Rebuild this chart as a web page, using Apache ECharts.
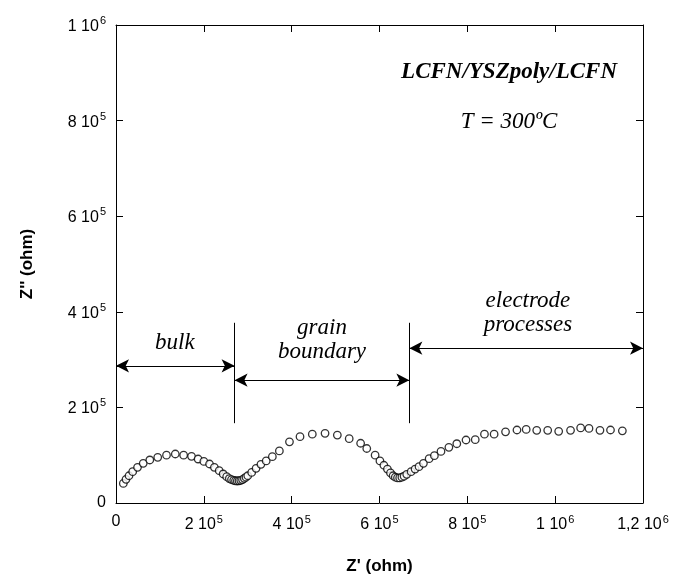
<!DOCTYPE html>
<html>
<head>
<meta charset="utf-8">
<script src="https://cdn.jsdelivr.net/npm/echarts@6/dist/echarts.min.js"></script>
<style>
html, body { margin: 0; padding: 0; background: #fff; }
#chart { width: 674px; height: 586px; }
</style>
</head>
<body>
<div id="chart"></div>
<script>
// Nyquist plot, Z' vs Z'' (ohm)
var zReal = [16.7e3, 22.8e3, 29.6e3, 38e3, 49e3, 62e3, 77e3, 95e3, 115e3, 135e3, 154e3, 172e3, 187e3,
	200e3, 213e3, 224e3, 235e3, 244e3, 252e3, 258e3, 263e3, 268e3, 272e3, 276e3, 280e3, 284e3, 288e3,
	292e3, 296e3, 300e3, 309e3, 319e3, 330e3, 342e3, 356e3, 372e3, 395e3, 419e3, 447e3, 476e3, 504e3,
	531e3, 557e3, 571e3, 590e3, 601e3, 610e3, 618e3, 625e3, 631e3, 636e3, 641e3, 646e3, 651e3, 656e3,
	662e3, 672e3, 681e3, 690e3, 700e3, 713e3, 725e3, 740e3, 758e3, 776e3, 797e3, 818e3, 839e3, 861e3,
	887e3, 913e3, 934e3, 958e3, 983e3, 1008e3, 1035e3, 1058e3, 1077e3, 1102e3, 1126e3, 1153e3];
var zImag = [41e3, 49.5e3, 57e3, 65.5e3, 74.6e3, 83e3, 90e3, 95.6e3, 100e3, 102.5e3, 100e3, 97.6e3, 92e3,
	87e3, 81.6e3, 74.6e3, 67.6e3, 60.7e3, 55e3, 51e3, 49e3, 47.5e3, 46.5e3, 46e3, 46.5e3, 47.5e3, 49e3,
	51.6e3, 54e3, 57e3, 64e3, 72.6e3, 81e3, 88e3, 97e3, 109e3, 128e3, 138.7e3, 144e3, 145.8e3, 142e3,
	134.5e3, 125e3, 114e3, 100e3, 88e3, 79e3, 71e3, 63e3, 57e3, 54e3, 52.5e3, 52.5e3, 54e3, 56e3,
	60e3, 65.5e3, 71e3, 76e3, 83e3, 92.7e3, 99e3, 108e3, 116.5e3, 124e3, 131.8e3, 132.5e3, 144e3, 144e3,
	149e3, 152.7e3, 154e3, 152e3, 152e3, 150e3, 152e3, 157e3, 156e3, 152e3, 152.7e3, 151e3];

// region arrows: [from, to, height]
var arrowFrom = [0, 270e3, 668e3];
var arrowTo = [270e3, 668e3, 1.2e6];
var arrowY = [287e3, 257e3, 324e3];
// separators between regions
var sepX = [270e3, 668e3];
var sepTop = 377e3, sepBottom = 167e3;

// text labels
var noteText = ['bulk', 'grain\nboundary', 'electrode\nprocesses'];
var noteX = [134e3, 469e3, 938e3];
var noteY = [335e3, 341e3, 397e3];

var titleText = ['LCFN/YSZpoly/LCFN', 'T = 300ºC'];
var titleX = [895e3, 895e3];
var titleY = [902e3, 797e3];

var FONT = 'Liberation Sans';
var SERIF = 'Liberation Serif';

function sciLabel(v) {
	if (v === 0) return '{m|0}';
	var e = Math.floor(Math.log10(v) + 1e-9);
	var m = Math.round(v / Math.pow(10, e) * 10) / 10;
	return '{m|' + String(m).replace('.', ',') + ' 10}{e|' + e + '}';
}

var rich = {
	m : { fontSize : 16, fontFamily : FONT, color : '#000', verticalAlign : 'bottom' },
	e : { fontSize : 11, fontFamily : FONT, color : '#000', verticalAlign : 'bottom', padding : [ 0, 0, 8, 1 ] }
};

var pts = zReal.map(function(x, i) { return [ x, zImag[i] ]; });

var lines = [];
for (var i = 0; i < arrowFrom.length; i++) {
	lines.push([ { coord : [ arrowFrom[i], arrowY[i] ] }, { coord : [ arrowTo[i], arrowY[i] ] } ]);
}
for (var j = 0; j < sepX.length; j++) {
	lines.push([ { coord : [ sepX[j], sepTop ], symbol : 'none' }, { coord : [ sepX[j], sepBottom ], symbol : 'none' } ]);
}

var notes = [];
for (var k = 0; k < noteText.length; k++) {
	notes.push({ name : noteText[k], coord : [ noteX[k], noteY[k] ],
		label : { fontSize : 23, fontStyle : 'italic', fontFamily : SERIF, lineHeight : 24 } });
}
notes.push({ name : titleText[0], coord : [ titleX[0], titleY[0] ],
	label : { fontSize : 23, fontStyle : 'italic', fontWeight : 'bold', fontFamily : SERIF } });
notes.push({ name : titleText[1], coord : [ titleX[1], titleY[1] ],
	label : { fontSize : 23, fontStyle : 'italic', fontFamily : SERIF } });

var axisLine = { show : true, onZero : false, lineStyle : { color : '#000', width : 1 } };
var tick = { show : true, inside : true, length : 7, lineStyle : { color : '#000' } };

var myChart = echarts.init(document.getElementById('chart'));
var option = {
	animation : false,
	backgroundColor : '#fff',
	grid : { left : 116, top : 25, right : 31, bottom : 83 },
	xAxis : [ {
		type : 'value', min : 0, max : 1.2e6, interval : 2e5,
		name : "Z' (ohm)", nameLocation : 'middle', nameGap : 55,
		nameTextStyle : { fontSize : 17, fontWeight : 'bold', fontFamily : FONT, color : '#000' },
		axisLine : axisLine, axisTick : tick, splitLine : { show : false },
		axisLabel : { margin : 11, formatter : sciLabel, rich : rich }
	}, {
		type : 'value', position : 'top', min : 0, max : 1.2e6, interval : 2e5,
		axisLine : axisLine, axisTick : tick, splitLine : { show : false },
		axisLabel : { show : false }
	} ],
	yAxis : [ {
		type : 'value', min : 0, max : 1e6, interval : 2e5,
		name : "Z'' (ohm)", nameLocation : 'middle', nameGap : 80,
		nameTextStyle : { fontSize : 17, fontWeight : 'bold', fontFamily : FONT, color : '#000' },
		axisLine : axisLine, axisTick : tick, splitLine : { show : false },
		axisLabel : { margin : 10, formatter : sciLabel, rich : rich }
	}, {
		type : 'value', position : 'right', min : 0, max : 1e6, interval : 2e5,
		axisLine : axisLine, axisTick : tick, splitLine : { show : false },
		axisLabel : { show : false }
	} ],
	series : [ {
		type : 'scatter',
		data : pts,
		symbol : 'circle',
		symbolSize : 7.5,
		itemStyle : { color : '#fff', borderColor : '#000', borderWidth : 1.3 },
		markLine : {
			silent : true,
			symbol : [ 'arrow', 'arrow' ],
			symbolSize : [ 10, 13 ],
			label : { show : false },
			lineStyle : { color : '#000', width : 1, type : 'solid' },
			data : lines
		},
		markPoint : {
			silent : true,
			symbol : 'circle',
			symbolSize : 0,
			label : { show : true, position : 'inside', formatter : '{b}', color : '#000' },
			data : notes
		}
	} ]
};
myChart.setOption(option);
</script>
</body>
</html>
